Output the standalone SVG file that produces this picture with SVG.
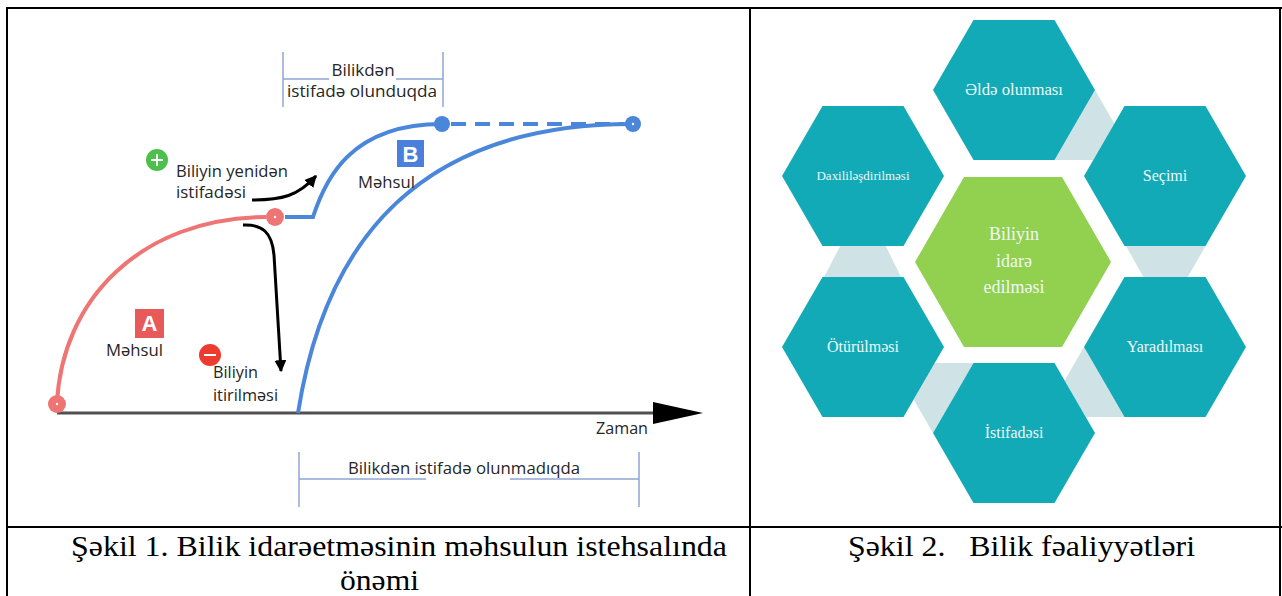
<svg xmlns="http://www.w3.org/2000/svg" width="1282" height="596" viewBox="0 0 1282 596">
<defs>
<marker id="ah" viewBox="0 0 10 10" refX="9" refY="5" markerWidth="4" markerHeight="4" orient="auto" markerUnits="strokeWidth"><path d="M0,0 L10,5 L0,10 z" fill="#000"/></marker>
</defs>
<style>
.sans{font-family:"Open Sans","Liberation Sans",sans-serif;fill:#262626;font-size:17px}
.hex{fill:#12aab6}
.hx{font-family:"Liberation Serif","DejaVu Serif",serif;fill:#eef7f7;font-size:16px;text-anchor:middle}
.link{fill:#cfe2e6}
.brk{stroke:#8fa5d6;stroke-width:1.5;fill:none}
.cap{font-family:"Liberation Serif","DejaVu Serif",serif;font-size:29px;fill:#000}
.red{stroke:#ef7474;stroke-width:4;fill:none}
.blue{stroke:#4a86d9;stroke-width:4;fill:none}
.arr{stroke:#000;stroke-width:3;fill:none;marker-end:url(#ah)}
.box{font-family:"Liberation Sans",sans-serif;font-weight:bold;font-size:22px;fill:#fff;text-anchor:middle}
</style>

<g id="table" stroke="#000" stroke-width="2">
<line x1="6" y1="8" x2="1282" y2="8"/>
<line x1="7" y1="7" x2="7" y2="596"/>
<line x1="750" y1="8" x2="750" y2="596"/>
<line x1="1280" y1="8" x2="1280" y2="596"/>
<line x1="6" y1="527" x2="1282" y2="527"/>
</g>

<g id="chart1">
<g id="axis">
<line x1="57" y1="413" x2="656" y2="413" stroke="#505050" stroke-width="3"/>
<polygon points="653,402 703,413 653,424" fill="#000"/>
<text class="sans" x="596" y="434" textLength="52" lengthAdjust="spacingAndGlyphs">Zaman</text>
</g>
<g id="productA">
<path class="red" d="M57,403 C62,300 140,218 266,217"/>
<circle cx="57" cy="404" r="9" fill="#ef7474"/>
<circle cx="57" cy="404" r="1.2" fill="#fff"/>
<circle cx="275" cy="217" r="9" fill="#ef7474"/>
<circle cx="275" cy="217" r="1.2" fill="#fff"/>
<rect x="135" y="309" width="29" height="29" fill="#e85a5a"/>
<text class="box" x="149.5" y="331">A</text>
<text class="sans" x="106" y="356" textLength="57" lengthAdjust="spacingAndGlyphs">Məhsul</text>
</g>
<g id="productB">
<path class="blue" d="M285,217 L313,217 C325,180 350,124 442,124"/>
<line class="blue" x1="451" y1="124" x2="624" y2="124" stroke-dasharray="15 9"/>
<path class="blue" d="M298,413 C325,240 420,124 632,124"/>
<circle cx="442" cy="124" r="8" fill="#4a86d9"/>
<circle cx="633" cy="124" r="8" fill="#4a86d9"/>
<circle cx="633" cy="124" r="1.2" fill="#fff"/>
<rect x="397" y="140" width="27" height="27" fill="#4a80dc"/>
<text class="box" x="410.5" y="162">B</text>
<text class="sans" x="358" y="188" textLength="57" lengthAdjust="spacingAndGlyphs">Məhsul</text>
</g>
<g id="reuse">
<circle cx="157" cy="160" r="11" fill="#4cc04c"/>
<path d="M151,160 H163 M157,154 V166" stroke="#fff" stroke-width="2"/>
<text class="sans" x="176" y="177" textLength="112" lengthAdjust="spacingAndGlyphs">Biliyin yenidən</text>
<text class="sans" x="176" y="198" textLength="70" lengthAdjust="spacingAndGlyphs">istifadəsi</text>
</g>
<g id="loss">
<circle cx="210" cy="355" r="11" fill="#ee3b30"/>
<path d="M204,355 H216" stroke="#fff" stroke-width="2"/>
<text class="sans" x="213" y="378" textLength="45" lengthAdjust="spacingAndGlyphs">Biliyin</text>
<text class="sans" x="213" y="401" textLength="65" lengthAdjust="spacingAndGlyphs">itirilməsi</text>
</g>
<g id="bracket-top">
<path class="brk" d="M283,52 V107 M443,52 V107 M283,79 H329 M396,79 H443"/>
<text class="sans" x="363" y="76" text-anchor="middle">Bilikdən</text>
<text class="sans" x="287" y="97" textLength="150" lengthAdjust="spacingAndGlyphs">istifadə olunduqda</text>
</g>
<g id="bracket-bottom">
<path class="brk" d="M299,452 V507 M639,452 V507 M299,479 H426 M510,479 H639"/>
<text class="sans" x="348" y="474" textLength="232" lengthAdjust="spacingAndGlyphs">Bilikdən istifadə olunmadıqda</text>
</g>
</g>

<g id="connectors">
<path class="arr" d="M252,200 C282,200 298,196 316,176"/>
<path class="arr" d="M243,225 C262,224 272,232 274,255 L281,371"/>
<polygon class="link" points="1095,90 1114.3,123.5 1093.2,160.1 1054.5,160.1"/>
<polygon class="link" points="1126,246.1 1205.5,246.1 1187.7,277 1143.5,277"/>
<polygon class="link" points="1084,347 1064.6,380.5 1085.8,417.1 1124.5,417.1"/>
<polygon class="link" points="934.8,362.9 973.5,362.9 933,433 913.7,399.5"/>
<polygon class="link" points="840.3,246.1 885.7,246.1 901,276.9 824,276.9"/>
</g>

<g id="hex-center">
<polygon points="915,262 964,177.1 1062,177.1 1111,262 1062,346.9 964,346.9" fill="#92d050"/>
<text class="hx" x="1014" y="240" style="font-size:18px">Biliyin</text>
<text class="hx" x="1014" y="267" style="font-size:18px">idarə</text>
<text class="hx" x="1014" y="293" style="font-size:18px">edilməsi</text>
</g>
<g id="hex-elde">
<polygon class="hex" points="933,90 973.5,19.9 1054.5,19.9 1095,90 1054.5,160.1 973.5,160.1"/>
<text class="hx" x="1014" y="95" textLength="98" lengthAdjust="spacingAndGlyphs">Əldə olunması</text>
</g>
<g id="hex-secimi">
<polygon class="hex" points="1084,176 1124.5,105.9 1205.5,105.9 1246,176 1205.5,246.1 1124.5,246.1"/>
<text class="hx" x="1165" y="181">Seçimi</text>
</g>
<g id="hex-yaradilmasi">
<polygon class="hex" points="1084,347 1124.5,276.9 1205.5,276.9 1246,347 1205.5,417.1 1124.5,417.1"/>
<text class="hx" x="1165" y="352">Yaradılması</text>
</g>
<g id="hex-istifadesi">
<polygon class="hex" points="933,433 973.5,362.9 1054.5,362.9 1095,433 1054.5,503.1 973.5,503.1"/>
<text class="hx" x="1014" y="438">İstifadəsi</text>
</g>
<g id="hex-oturulmesi">
<polygon class="hex" points="782,347 822.5,276.9 903.5,276.9 944,347 903.5,417.1 822.5,417.1"/>
<text class="hx" x="863" y="352">Ötürülməsi</text>
</g>
<g id="hex-daxili">
<polygon class="hex" points="782,176 822.5,105.9 903.5,105.9 944,176 903.5,246.1 822.5,246.1"/>
<text class="hx" x="863" y="180" style="font-size:13px" textLength="93" lengthAdjust="spacingAndGlyphs">Daxililəşdirilməsi</text>
</g>

<g id="captions">
<text class="cap" x="71" y="556" textLength="656" lengthAdjust="spacingAndGlyphs">Şəkil 1. Bilik idarəetməsinin məhsulun istehsalında</text>
<text class="cap" x="340" y="590" textLength="79" lengthAdjust="spacingAndGlyphs">önəmi</text>
<text class="cap" x="848" y="556" xml:space="preserve" textLength="347" lengthAdjust="spacingAndGlyphs">Şəkil 2.   Bilik fəaliyyətləri</text>
</g>
</svg>
